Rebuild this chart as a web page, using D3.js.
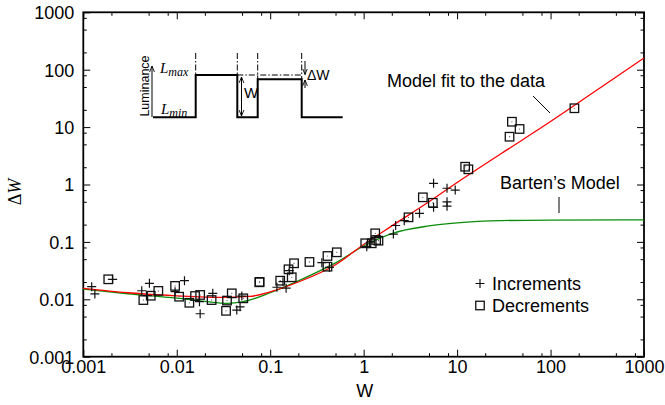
<!DOCTYPE html>
<html lang="en">
<head>
<meta charset="UTF-8">
<title>Delta W vs W</title>
<script src="https://d3js.org/d3.v7.min.js"></script>
<style>
  body { margin: 0; background: #fff; }
  text { font-family: "Liberation Sans", Arial, Helvetica, sans-serif; fill: #000; }
</style>
</head>
<body>
<script>
  // axis ticks (same decades on both axes)
  var majorTicks = [0.001, 0.01, 0.1, 1, 10, 100, 1000];
  var tickLabels = ["0.001", "0.01", "0.1", "1", "10", "100", "1000"];
  var minorTicks = [0.002, 0.005, 0.008, 0.02, 0.05, 0.08, 0.2, 0.5, 0.8,
                    2, 5, 8, 20, 50, 80, 200, 500, 800];

  // measured points [W, deltaW]
  var increments = [
    [0.00123, 0.0166], [0.00133, 0.0124], [0.00206, 0.0223], [0.0051, 0.0190],
    [0.00422, 0.0141], [0.00484, 0.0116], [0.0096, 0.0136], [0.0121, 0.0211],
    [0.0175, 0.0091], [0.0178, 0.0056], [0.0243, 0.0127], [0.0497, 0.0114],
    [0.0476, 0.0074], [0.0439, 0.0065], [0.118, 0.0162], [0.148, 0.0156],
    [0.137, 0.0203], [0.160, 0.0315], [0.357, 0.0434], [0.43, 0.036],
    [1.08, 0.0825], [1.19, 0.100], [2.08, 0.137], [2.2, 0.193], [2.72, 0.234],
    [3.96, 0.315], [5.6, 0.40], [5.6, 1.05], [7.8, 0.86], [9.55, 0.80],
    [7.8, 0.50], [7.8, 0.42]
  ];
  var decrements = [
    [0.00185, 0.0223], [0.00439, 0.0097], [0.00527, 0.01155], [0.00635, 0.0140],
    [0.0096, 0.0171], [0.0106, 0.0111], [0.01364, 0.0087], [0.0157, 0.0114],
    [0.0178, 0.0119], [0.0236, 0.0097], [0.0337, 0.0063], [0.0388, 0.0127],
    [0.0345, 0.0095], [0.0515, 0.0104], [0.0766, 0.0198], [0.0770, 0.0201],
    [0.128, 0.0211], [0.170, 0.0242], [0.157, 0.0333], [0.180, 0.0424],
    [0.263, 0.0447], [0.41, 0.0568], [0.41, 0.037], [0.516, 0.0659],
    [1.04, 0.0946], [1.33, 0.141], [1.36, 0.108], [1.22, 0.0946], [1.44, 0.105],
    [3.02, 0.268], [4.3, 0.598], [5.5, 0.48], [12.2, 2.04], [13.2, 1.84],
    [38.6, 12.4], [46.6, 9.27], [36.4, 6.8], [180, 21.3]
  ];

  // model curves
  var modelFit = [
    [0.001, 0.0155], [0.003, 0.013], [0.01, 0.0115], [0.03, 0.0108], [0.06, 0.0112],
    [0.1, 0.0135], [0.2, 0.020], [0.5, 0.040], [1, 0.090], [2, 0.19], [5, 0.50],
    [10, 1.08], [30, 3.5], [100, 12.5], [300, 42], [1000, 160]
  ];
  var bartenModel = [
    [0.001, 0.0150], [0.003, 0.0125], [0.01, 0.0105], [0.02, 0.0092], [0.035, 0.0085],
    [0.05, 0.0090], [0.1, 0.0130], [0.2, 0.021], [0.5, 0.043], [1, 0.085], [2, 0.14],
    [5, 0.19], [10, 0.215], [30, 0.235], [100, 0.24], [1000, 0.242]
  ];

  var width = 665, height = 405;
  var plotL = 83.3, plotR = 644, plotT = 12.3, plotB = 356.7;

  var svg = d3.select("body").append("svg")
    .attr("width", width)
    .attr("height", height);

  var x = d3.scaleLog().domain([0.001, 1000]).range([plotL, plotR]);
  var y = d3.scaleLog().domain([0.001, 1000]).range([plotB, plotT]);

  var fmt = function(d) { return tickLabels[majorTicks.indexOf(d)]; };

  // ticks on all four sides, pointing inward
  function addAxis(axis, tr, values, size, labels) {
    var g = svg.append("g")
      .attr("transform", tr)
      .call(axis.tickValues(values).tickSize(size).tickSizeOuter(0)
        .tickFormat(labels ? fmt : ""));
    g.select(".domain").remove();
    g.selectAll("line").attr("stroke", "#000").attr("stroke-width", 1);
    return g;
  }
  var gx = addAxis(d3.axisBottom(x), "translate(0," + plotB + ")", majorTicks, -7, true);
  addAxis(d3.axisBottom(x), "translate(0," + plotB + ")", minorTicks, -3.5, false);
  addAxis(d3.axisTop(x), "translate(0," + plotT + ")", majorTicks, -7, false);
  addAxis(d3.axisTop(x), "translate(0," + plotT + ")", minorTicks, -3.5, false);
  var gy = addAxis(d3.axisLeft(y), "translate(" + plotL + ",0)", majorTicks, -7, true);
  addAxis(d3.axisLeft(y), "translate(" + plotL + ",0)", minorTicks, -3.5, false);
  addAxis(d3.axisRight(y), "translate(" + plotR + ",0)", majorTicks, -7, false);
  addAxis(d3.axisRight(y), "translate(" + plotR + ",0)", minorTicks, -3.5, false);

  gx.selectAll("text")
    .attr("y", 4)
    .attr("dy", "0.71em")
    .style("font-size", "18px")
    .style("font-family", "'Liberation Sans', Arial, sans-serif");
  gy.selectAll("text")
    .attr("x", -9)
    .attr("dy", "0.35em")
    .style("font-size", "18px")
    .style("font-family", "'Liberation Sans', Arial, sans-serif");

  svg.append("rect")
    .attr("x", plotL).attr("y", plotT)
    .attr("width", plotR - plotL).attr("height", plotB - plotT)
    .attr("fill", "none").attr("stroke", "#000").attr("stroke-width", 1.8);

  // axis titles
  svg.append("text")
    .attr("x", (plotL + plotR) / 2 + 1).attr("y", 397)
    .attr("text-anchor", "middle")
    .style("font-size", "18px")
    .text("W");
  var yt = svg.append("text")
    .attr("transform", "translate(21,192) rotate(-90)")
    .attr("text-anchor", "middle")
    .style("font-size", "18px")
    .style("font-family", "'Liberation Serif', 'Times New Roman', serif");
  yt.append("tspan").text("\u0394");
  yt.append("tspan").style("font-style", "italic").text("W");

  // model curves
  var line = d3.line()
    .x(function(d) { return x(d[0]); })
    .y(function(d) { return y(d[1]); })
    .curve(d3.curveMonotoneX);

  svg.append("path").datum(bartenModel)
    .attr("d", line).attr("fill", "none")
    .attr("stroke", "#0a8c0a").attr("stroke-width", 1.3);
  svg.append("path").datum(modelFit)
    .attr("d", line).attr("fill", "none")
    .attr("stroke", "#ff0000").attr("stroke-width", 1.3);

  // markers
  var sq = 8.5, cr = 4.5;
  function drawSquares(g, data, dots) {
    g.selectAll("rect").data(data).enter().append("rect")
      .attr("x", function(d) { return x(d[0]) - sq / 2; })
      .attr("y", function(d) { return y(d[1]) - sq / 2; })
      .attr("width", sq).attr("height", sq)
      .attr("fill", "none").attr("stroke", "#111").attr("stroke-width", 1.3);
    if (!dots) return;
    g.selectAll("circle").data(data).enter().append("circle")
      .attr("cx", function(d) { return x(d[0]); })
      .attr("cy", function(d) { return y(d[1]); })
      .attr("r", 0.6).attr("fill", "#555");
  }
  function drawCrosses(g, data) {
    g.selectAll("path").data(data).enter().append("path")
      .attr("d", function(d) {
        var cx = x(d[0]), cy = y(d[1]);
        return "M" + (cx - cr) + "," + cy + "H" + (cx + cr) +
               "M" + cx + "," + (cy - cr) + "V" + (cy + cr);
      })
      .attr("stroke", "#111").attr("stroke-width", 1.2);
  }
  drawSquares(svg.append("g"), decrements, true);
  drawCrosses(svg.append("g"), increments);

  // legend
  var legend = svg.append("g");
  drawCrosses(legend.append("g"), [[x.invert(480), y.invert(283.5)]]);
  drawSquares(legend.append("g"), [[x.invert(480), y.invert(305.5)]], false);
  legend.append("text").attr("x", 492).attr("y", 290).style("font-size", "18px").text("Increments");
  legend.append("text").attr("x", 492).attr("y", 312).style("font-size", "18px").text("Decrements");

  // annotations
  svg.append("text").attr("x", 387).attr("y", 87).style("font-size", "18px").text("Model fit to the data");
  svg.append("line").attr("x1", 533).attr("y1", 96).attr("x2", 550).attr("y2", 113)
    .attr("stroke", "#000").attr("stroke-width", 1);
  svg.append("text").attr("x", 500).attr("y", 189).style("font-size", "18px").text("Barten\u2019s Model");
  svg.append("line").attr("x1", 559).attr("y1", 197).attr("x2", 559).attr("y2", 213)
    .attr("stroke", "#000").attr("stroke-width", 1);

  // inset: luminance waveform sketch
  var inset = svg.append("g");
  var defs = svg.append("defs");
  defs.append("marker").attr("id", "ah")
    .attr("viewBox", "0 0 10 10").attr("refX", 10).attr("refY", 5)
    .attr("markerWidth", 6).attr("markerHeight", 6).attr("orient", "auto-start-reverse")
    .attr("markerUnits", "userSpaceOnUse")
    .append("path").attr("d", "M0,1L10,5L0,9").attr("fill", "none").attr("stroke", "#000").attr("stroke-width", 1.5);

  var wave = [[153, 117.3], [195.7, 117.3], [195.7, 75], [237.3, 75], [237.3, 117.3],
              [257.7, 117.3], [257.7, 79.3], [301.7, 79.3], [301.7, 117.3], [342.7, 117.3]];
  inset.append("path").attr("d", d3.line()(wave))
    .attr("fill", "none").attr("stroke", "#000").attr("stroke-width", 2);

  var dashDot = "6,2,1.5,2";
  [[195.7, 75], [237.3, 75], [257.7, 79.3], [301.7, 79.3]].forEach(function(p) {
    inset.append("line").attr("x1", p[0]).attr("x2", p[0]).attr("y1", 53).attr("y2", p[1])
      .attr("stroke", "#000").attr("stroke-width", 1).attr("stroke-dasharray", dashDot);
  });
  inset.append("line").attr("x1", 237.3).attr("x2", 301.7).attr("y1", 75).attr("y2", 75)
    .attr("stroke", "#000").attr("stroke-width", 1).attr("stroke-dasharray", dashDot);

  inset.append("line").attr("x1", 152).attr("x2", 152).attr("y1", 117).attr("y2", 66)
    .attr("stroke", "#000").attr("stroke-width", 1).attr("marker-end", "url(#ah)");
  inset.append("text").attr("transform", "translate(149,86) rotate(-90)")
    .attr("text-anchor", "middle").style("font-size", "12.5px").text("Luminance");

  function subLabel(xp, yp, sub) {
    var t = inset.append("text").attr("x", xp).attr("y", yp)
      .style("font-family", "'Liberation Serif', 'Times New Roman', serif")
      .style("font-style", "italic").style("font-size", "15px");
    t.append("tspan").text("L");
    t.append("tspan").attr("dy", 3).style("font-size", "12px").text(sub);
  }
  subLabel(160, 73, "max");
  subLabel(161, 114, "min");

  inset.append("line").attr("x1", 241.5).attr("x2", 241.5).attr("y1", 77).attr("y2", 116)
    .attr("stroke", "#000").attr("stroke-width", 1)
    .attr("marker-start", "url(#ah)").attr("marker-end", "url(#ah)");
  inset.append("text").attr("x", 244).attr("y", 98).style("font-size", "15px").text("W");

  inset.append("line").attr("x1", 305).attr("x2", 305).attr("y1", 61).attr("y2", 74.5)
    .attr("stroke", "#000").attr("stroke-width", 1).attr("marker-end", "url(#ah)");
  inset.append("line").attr("x1", 305).attr("x2", 305).attr("y1", 88).attr("y2", 80)
    .attr("stroke", "#000").attr("stroke-width", 1).attr("marker-end", "url(#ah)");
  inset.append("text").attr("x", 307).attr("y", 80).style("font-size", "14px").text("\u0394W");
</script>
</body>
</html>
